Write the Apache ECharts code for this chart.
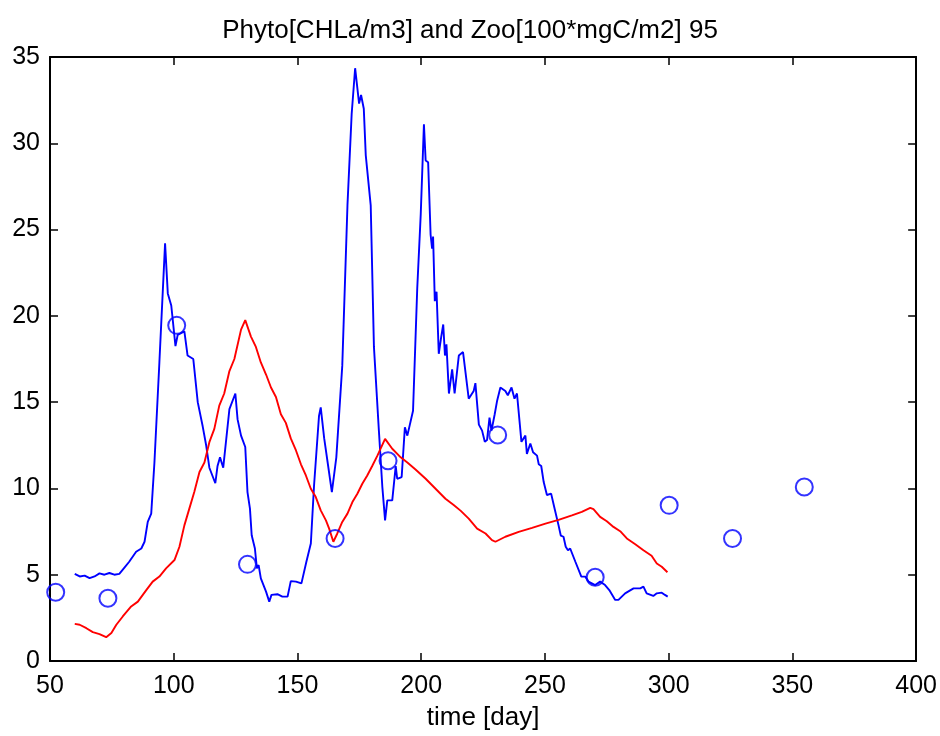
<!DOCTYPE html>
<html>
<head>
<meta charset="utf-8">
<script src="https://cdn.jsdelivr.net/npm/echarts@6/dist/echarts.min.js"></script>
<style>html,body{margin:0;padding:0;background:#fff}#c{width:940px;height:736px}</style>
</head>
<body>
<div id="c"></div>
<script>
const titleText = "Phyto[CHLa/m3] and Zoo[100*mgC/m2] 95";
const xAxisName = "time [day]";
const xTicks = [50, 100, 150, 200, 250, 300, 350, 400];
const yTicks = [0, 5, 10, 15, 20, 25, 30, 35];

const phytoDays = [60,62,64,66,68,70,72,74,76,78,80,82,84.8,86.9,88.2,89.5,90.9,92.2,94.2,96.5,97.6,99,100.7,101.6,104.3,105.6,107.9,109.7,111.7,113.1,114.4,116.8,117.7,118.7,120,122.5,124.9,125.8,127.2,128.9,129.8,130.8,131.5,132.8,133.6,134.3,135.2,137.3,138.6,139.5,141.9,143.9,146,147.3,149.4,151.6,153.6,155.4,156.7,158.7,159.4,160.8,162.4,163.9,165.7,168.1,170.2,171.9,173.3,174.9,175.7,176.8,177.6,179.6,180.9,182.9,184.3,185.4,186.3,188.3,189.7,190.3,192.1,193.4,194.4,196.7,198.4,199.8,201.1,201.8,202.8,203.8,204.4,204.8,205.5,206.2,207.1,208.1,208.9,209.6,210.2,211.2,212.5,213.5,215.2,216.9,219.2,221.2,221.9,223.3,224.6,225.7,226.6,227.6,228.4,229.7,230.7,232,234,235,236.5,237.7,238.7,240.5,242.1,242.7,244.1,245.2,246.8,247.5,248.5,249.5,250.8,252.5,253.7,255.5,256.4,257.5,258.4,259.3,260.2,262.3,264.7,266.3,267.6,270.3,272.3,274.3,276,278.4,279.7,282.4,285.8,288.5,289.8,291.1,293.8,295.2,297.2,298.5,299.6];
const phytoValues = [5.05,4.9,4.95,4.8,4.9,5.08,5.0,5.1,5.0,5.05,5.4,5.75,6.33,6.52,6.91,8.06,8.54,11.5,17.3,24.2,21.3,20.6,18.25,18.9,19.1,17.7,17.5,15.0,13.6,12.5,11.2,10.3,11.3,11.8,11.2,14.6,15.5,14.0,13.06,12.4,9.79,8.83,7.29,6.52,5.37,5.56,4.79,4.02,3.44,3.83,3.87,3.73,3.73,4.63,4.6,4.5,5.75,6.81,10.17,14.2,14.7,12.9,11.3,9.79,11.8,17.1,26.4,31.7,34.35,32.3,32.8,32.0,29.3,26.4,18.2,13.35,10.08,8.15,9.31,9.31,11.3,10.56,10.66,13.54,13.06,14.5,21.6,25.85,31.1,29.0,28.9,24.7,23.9,24.6,20.85,21.4,17.8,18.8,19.5,17.7,18.35,15.5,16.9,15.5,17.7,17.9,15.2,15.65,16.1,13.7,13.35,12.7,12.8,14.1,13.35,14.3,15.1,15.85,15.65,15.4,15.85,15.2,15.5,12.7,13.06,12.0,12.6,12.1,11.9,11.4,11.3,10.37,9.62,9.7,8.95,7.86,7.27,7.2,6.62,6.42,6.52,5.75,4.89,4.89,4.6,4.4,4.6,4.4,4.11,3.54,3.54,3.92,4.21,4.21,4.31,3.92,3.77,3.92,3.96,3.83,3.73];

const zooDays = [60,62,64.7,67.3,70,72.7,74.8,76.8,79.4,82.8,85.5,88.9,91.5,94.2,96.9,100.3,102.3,104.3,106.3,108.3,110.4,112.4,114.4,116.4,118.4,120.4,122.5,124.5,127.2,128.9,131.2,133.2,135.2,137.3,139.3,141.3,143.3,145.3,147.3,149.4,151.4,153.4,155.4,157.4,159.4,161.5,162.8,164.5,166.1,168.1,170.2,172.2,174.2,176.2,178.2,180.2,182.3,185.4,188.3,191.7,194.4,197.7,201.8,205.8,209.8,213,216,219.2,222.6,226,228.6,230,234,239.4,244.8,250.2,255.5,260.9,264.9,268.3,269.6,272.3,275,277.7,280.4,283.1,286.5,289.8,293.1,295.2,297.2,299.5];
const zooValues = [2.15,2.1,1.9,1.67,1.56,1.38,1.62,2.1,2.58,3.16,3.44,4.11,4.6,4.89,5.37,5.85,6.62,7.86,8.83,9.79,10.95,11.5,12.68,13.45,14.8,15.5,16.8,17.5,19.2,19.75,18.8,18.2,17.3,16.6,15.85,15.3,14.3,13.8,12.9,12.2,11.4,10.75,9.98,9.5,8.73,8.15,7.67,6.91,7.39,8.06,8.54,9.21,9.69,10.27,10.75,11.3,11.9,12.87,12.3,11.8,11.5,11.1,10.56,9.98,9.4,9.05,8.7,8.25,7.67,7.39,7.0,6.91,7.2,7.48,7.71,7.96,8.18,8.44,8.64,8.87,8.8,8.35,8.1,7.77,7.52,7.1,6.77,6.42,6.1,5.65,5.46,5.14];

const obsDays = [52.3,73.4,101.2,129.8,165.2,186.6,230.9,270.3,300.2,325.8,354.8];
const obsValues = [3.98,3.64,19.45,5.6,7.1,11.6,13.1,4.85,9.02,7.1,10.08];

function pairs(xs, ys){ return xs.map((x,i)=>[x, ys[i]]); }

const FONT = "'Liberation Sans', Arial, Helvetica, sans-serif";
const chart = echarts.init(document.getElementById('c'), null, {renderer:'canvas'});

const baseAxisLine = {show:true, onZero:false, lineStyle:{color:'#000', width:2}};
const baseTick = {show:true, inside:true, length:8, lineStyle:{color:'#000', width:1.5}};

chart.setOption({
  backgroundColor:'#fff',
  animation:false,
  title:{
    text:titleText, left:465, textAlign:'center', top:13,
    textStyle:{fontFamily:FONT, fontSize:26, fontWeight:'normal', color:'#000'}
  },
  grid:{left:50, right:23, top:57, bottom:73},
  xAxis:[{
    type:'value', min:xTicks[0], max:xTicks[xTicks.length-1], interval:50,
    name:xAxisName, nameLocation:'middle', nameGap:44,
    nameTextStyle:{fontFamily:FONT, fontSize:26, color:'#000'},
    axisLine:baseAxisLine, axisTick:baseTick, splitLine:{show:false},
    axisLabel:{fontFamily:FONT, fontSize:25, color:'#000', margin:13, showMinLabel:true, showMaxLabel:true}
  },{
    type:'value', position:'top', min:xTicks[0], max:xTicks[xTicks.length-1], interval:50,
    axisLine:baseAxisLine, axisTick:baseTick, splitLine:{show:false}, axisLabel:{show:false}
  }],
  yAxis:[{
    type:'value', min:yTicks[0], max:yTicks[yTicks.length-1], interval:5,
    axisLine:baseAxisLine, axisTick:baseTick, splitLine:{show:false},
    axisLabel:{fontFamily:FONT, fontSize:25, color:'#000', margin:10, showMinLabel:true, showMaxLabel:true}
  },{
    type:'value', position:'right', min:yTicks[0], max:yTicks[yTicks.length-1], interval:5,
    axisLine:baseAxisLine, axisTick:baseTick, splitLine:{show:false}, axisLabel:{show:false}
  }],
  series:[{
    type:'line', name:'Phyto', data:pairs(phytoDays, phytoValues), showSymbol:false, symbol:'none',
    lineStyle:{color:'#0000ff', width:1.9}, z:2
  },{
    type:'line', name:'Zoo', data:pairs(zooDays, zooValues), showSymbol:false, symbol:'none',
    lineStyle:{color:'#ff0000', width:1.9}, z:2
  },{
    type:'scatter', name:'obs', data:pairs(obsDays, obsValues), symbol:'circle', symbolSize:17,
    itemStyle:{color:'rgba(0,0,0,0)', borderColor:'#0000ff', borderWidth:2}, z:3
  }]
});
</script>
</body>
</html>
